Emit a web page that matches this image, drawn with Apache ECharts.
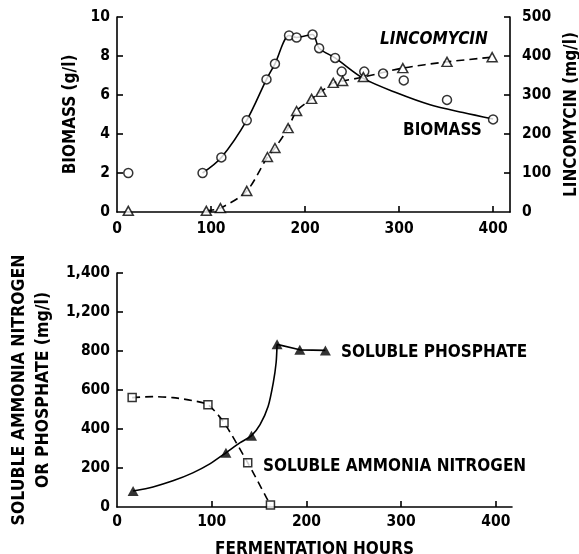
<!DOCTYPE html>
<html>
<head>
<meta charset="utf-8">
<script src="https://cdn.jsdelivr.net/npm/echarts@6/dist/echarts.min.js"></script>
<style>html,body{margin:0;padding:0;background:#fff}#c{width:579px;height:554px}</style>
</head>
<body>
<div id="c"></div>
<script>
// ---- Top panel: biomass (g/l, left) and lincomycin (mg/l, right) ----
const biomassHours = [12, 91, 111, 138, 159, 168, 183, 191, 208, 215, 232, 239, 263, 283, 305, 351, 400];
const biomassValues = [2.0, 2.0, 2.8, 4.7, 6.8, 7.6, 9.05, 8.95, 9.1, 8.4, 7.9, 7.2, 7.2, 7.1, 6.75, 5.75, 4.75];
const biomassCurveHours = [91, 111, 138, 159, 168, 183, 191, 208, 215, 232, 262, 298, 333, 368, 400];
const biomassCurveValues = [2.0, 2.8, 4.7, 6.8, 7.6, 9.05, 8.95, 9.1, 8.4, 7.9, 6.85, 6.1, 5.5, 5.1, 4.77];

const lincoHours = [12, 95, 110, 138, 160, 168, 182, 191, 207, 217, 230, 240, 262, 304, 351, 399];
const lincoValues = [3, 3, 10, 54, 141, 164, 215, 259, 290, 308, 331, 336, 346, 369, 385, 397];
const lincoCurveHours = [95, 110, 138, 160, 168, 182, 191, 207, 217, 230, 240, 262, 304, 351, 399];
const lincoCurveValues = [3, 10, 54, 141, 164, 215, 259, 290, 308, 331, 336, 346, 369, 385, 397];

// ---- Bottom panel: soluble ammonia nitrogen and phosphate (mg/l) ----
const ammoniaHours = [16, 96, 113, 138, 162];
const ammoniaValues = [561, 525, 432, 227, 10];
const ammoniaCurveHours = [16, 38, 59, 79, 96, 113, 138, 158, 162];
const ammoniaCurveValues = [561, 566, 561, 546, 525, 432, 227, 46, 10];

const phosphateHours = [17, 115, 142, 169, 193, 220];
const phosphateValues = [82, 278, 366, 834, 806, 803];
const phosphateCurveHours = [17, 38, 59, 80, 98, 115, 130, 142, 151, 159.5, 165, 168, 169];
const phosphateCurveValues = [82, 103, 134, 175, 221, 278, 330, 366, 422, 515, 638, 741, 834];
const phosphateTailHours = [169, 193, 220];
const phosphateTailValues = [834, 806, 803];

// tick labels
const hourTicks = [0, 100, 200, 300, 400];
const biomassTicks = [0, 2, 4, 6, 8, 10];
const lincoTicks = [0, 100, 200, 300, 400, 500];
// the printed axis skips 1,000: the sixth and seventh ticks read 1,200 and 1,400
const bottomTickLabels = ['0', '200', '400', '600', '800', '1,200', '1,400'];

const zip = (xs, ys) => xs.map((x, i) => [x, ys[i]]);

const FONT = '"DejaVu Sans Condensed", "Liberation Sans Narrow", sans-serif';
const tickFont = {fontFamily: FONT, fontWeight: 'bold', fontSize: 15.5, color: '#000'};
const nameFont = {fontFamily: FONT, fontWeight: 'bold', fontSize: 17, color: '#000'};
const axisLine = {show: true, lineStyle: {color: '#000', width: 1.6}};
const tick = {show: true, inside: true, length: 6, lineStyle: {color: '#000', width: 1.6}};

const chart = echarts.init(document.getElementById('c'), null, {renderer: 'canvas'});

const openSym = {color: '#fff', borderColor: '#000', borderWidth: 1.5};
const curve = (dashed) => ({color: '#000', width: 1.6, type: dashed ? [8, 5] : 'solid'});

chart.setOption({
  animation: false,
  backgroundColor: '#fff',
  grid: [
    {left: 117, top: 17, width: 393, height: 195, outerBoundsMode: 'none', containLabel: false},
    {left: 117, top: 273, width: 395, height: 234, outerBoundsMode: 'none', containLabel: false}
  ],
  xAxis: [
    {type: 'value', gridIndex: 0, min: 0, max: 418, splitLine: {show: false}, axisLine,
     axisTick: Object.assign({}, tick, {customValues: hourTicks.slice(1)}),
     axisLabel: Object.assign({}, tickFont, {margin: 9, customValues: hourTicks})},
    {type: 'value', gridIndex: 1, min: 0, max: 417, splitLine: {show: false}, axisLine,
     axisTick: Object.assign({}, tick, {customValues: hourTicks.slice(1)}),
     axisLabel: Object.assign({}, tickFont, {margin: 7, customValues: hourTicks}),
     name: 'FERMENTATION HOURS', nameLocation: 'middle', nameGap: 34, nameTextStyle: nameFont}
  ],
  yAxis: [
    {type: 'value', gridIndex: 0, min: 0, max: 10, interval: 2, splitLine: {show: false}, axisLine,
     axisTick: Object.assign({}, tick, {customValues: biomassTicks.slice(1)}),
     axisLabel: Object.assign({}, tickFont, {margin: 7, customValues: biomassTicks}),
     name: 'BIOMASS (g/l)', nameLocation: 'middle', nameRotate: 90, nameGap: 38, nameTextStyle: nameFont},
    {type: 'value', gridIndex: 0, position: 'right', min: 0, max: 500, interval: 100, splitLine: {show: false}, axisLine,
     axisTick: Object.assign({}, tick, {customValues: lincoTicks.slice(1)}),
     axisLabel: Object.assign({}, tickFont, {margin: 12, customValues: lincoTicks}),
     name: 'LINCOMYCIN (mg/l)', nameLocation: 'middle', nameRotate: 90, nameGap: 53, nameTextStyle: nameFont},
    {type: 'value', gridIndex: 1, min: 0, max: 1200, interval: 200, splitLine: {show: false}, axisLine,
     axisTick: Object.assign({}, tick, {customValues: [200, 400, 600, 800, 1000, 1200]}),
     axisLabel: Object.assign({}, tickFont, {margin: 7,
       formatter: (v) => bottomTickLabels[Math.round(v / 200)]}),
     name: 'SOLUBLE AMMONIA NITROGEN\nOR PHOSPHATE (mg/l)', nameLocation: 'middle', nameRotate: 90, nameGap: 61,
     nameTextStyle: Object.assign({}, nameFont, {fontSize: 17.5, lineHeight: 24})}
  ],
  series: [
    {type: 'line', xAxisIndex: 0, yAxisIndex: 0, data: zip(biomassCurveHours, biomassCurveValues),
     smooth: 0.3, showSymbol: false, lineStyle: curve(false), z: 2},
    {type: 'line', xAxisIndex: 0, yAxisIndex: 1, data: zip(lincoCurveHours, lincoCurveValues),
     smooth: 0.3, showSymbol: false, lineStyle: curve(true), z: 2},
    {type: 'scatter', xAxisIndex: 0, yAxisIndex: 0, data: zip(biomassHours, biomassValues),
     symbol: 'circle', symbolSize: 9, itemStyle: openSym, z: 5},
    {type: 'scatter', xAxisIndex: 0, yAxisIndex: 1, data: zip(lincoHours, lincoValues),
     symbol: 'triangle', symbolSize: [10, 9], itemStyle: openSym, z: 5},

    {type: 'line', xAxisIndex: 1, yAxisIndex: 2, data: zip(ammoniaCurveHours, ammoniaCurveValues),
     smooth: 0.25, showSymbol: false, lineStyle: curve(true), z: 2},
    {type: 'line', xAxisIndex: 1, yAxisIndex: 2, data: zip(phosphateCurveHours, phosphateCurveValues),
     smooth: 0.25, showSymbol: false, lineStyle: curve(false), z: 2},
    {type: 'line', xAxisIndex: 1, yAxisIndex: 2, data: zip(phosphateTailHours, phosphateTailValues),
     showSymbol: false, lineStyle: curve(false), z: 2},
    {type: 'scatter', xAxisIndex: 1, yAxisIndex: 2, data: zip(ammoniaHours, ammoniaValues),
     symbol: 'rect', symbolSize: 8, itemStyle: openSym, z: 5},
    {type: 'scatter', xAxisIndex: 1, yAxisIndex: 2, data: zip(phosphateHours, phosphateValues),
     symbol: 'triangle', symbolSize: [11, 10], itemStyle: {color: '#000'}, z: 5}
  ],
  graphic: [
    {type: 'text', left: 380, top: 31, style: {text: 'LINCOMYCIN', fontFamily: FONT, fontWeight: 'bold', fontStyle: 'italic', fontSize: 17, fill: '#000'}},
    {type: 'text', left: 403, top: 122, style: {text: 'BIOMASS', fontFamily: FONT, fontWeight: 'bold', fontSize: 17, fill: '#000'}},
    {type: 'text', left: 341, top: 344, style: {text: 'SOLUBLE PHOSPHATE', fontFamily: FONT, fontWeight: 'bold', fontSize: 17, fill: '#000'}},
    {type: 'text', left: 263, top: 458, style: {text: 'SOLUBLE AMMONIA NITROGEN', fontFamily: FONT, fontWeight: 'bold', fontSize: 17, fill: '#000'}}
  ]
});
</script>
</body>
</html>
